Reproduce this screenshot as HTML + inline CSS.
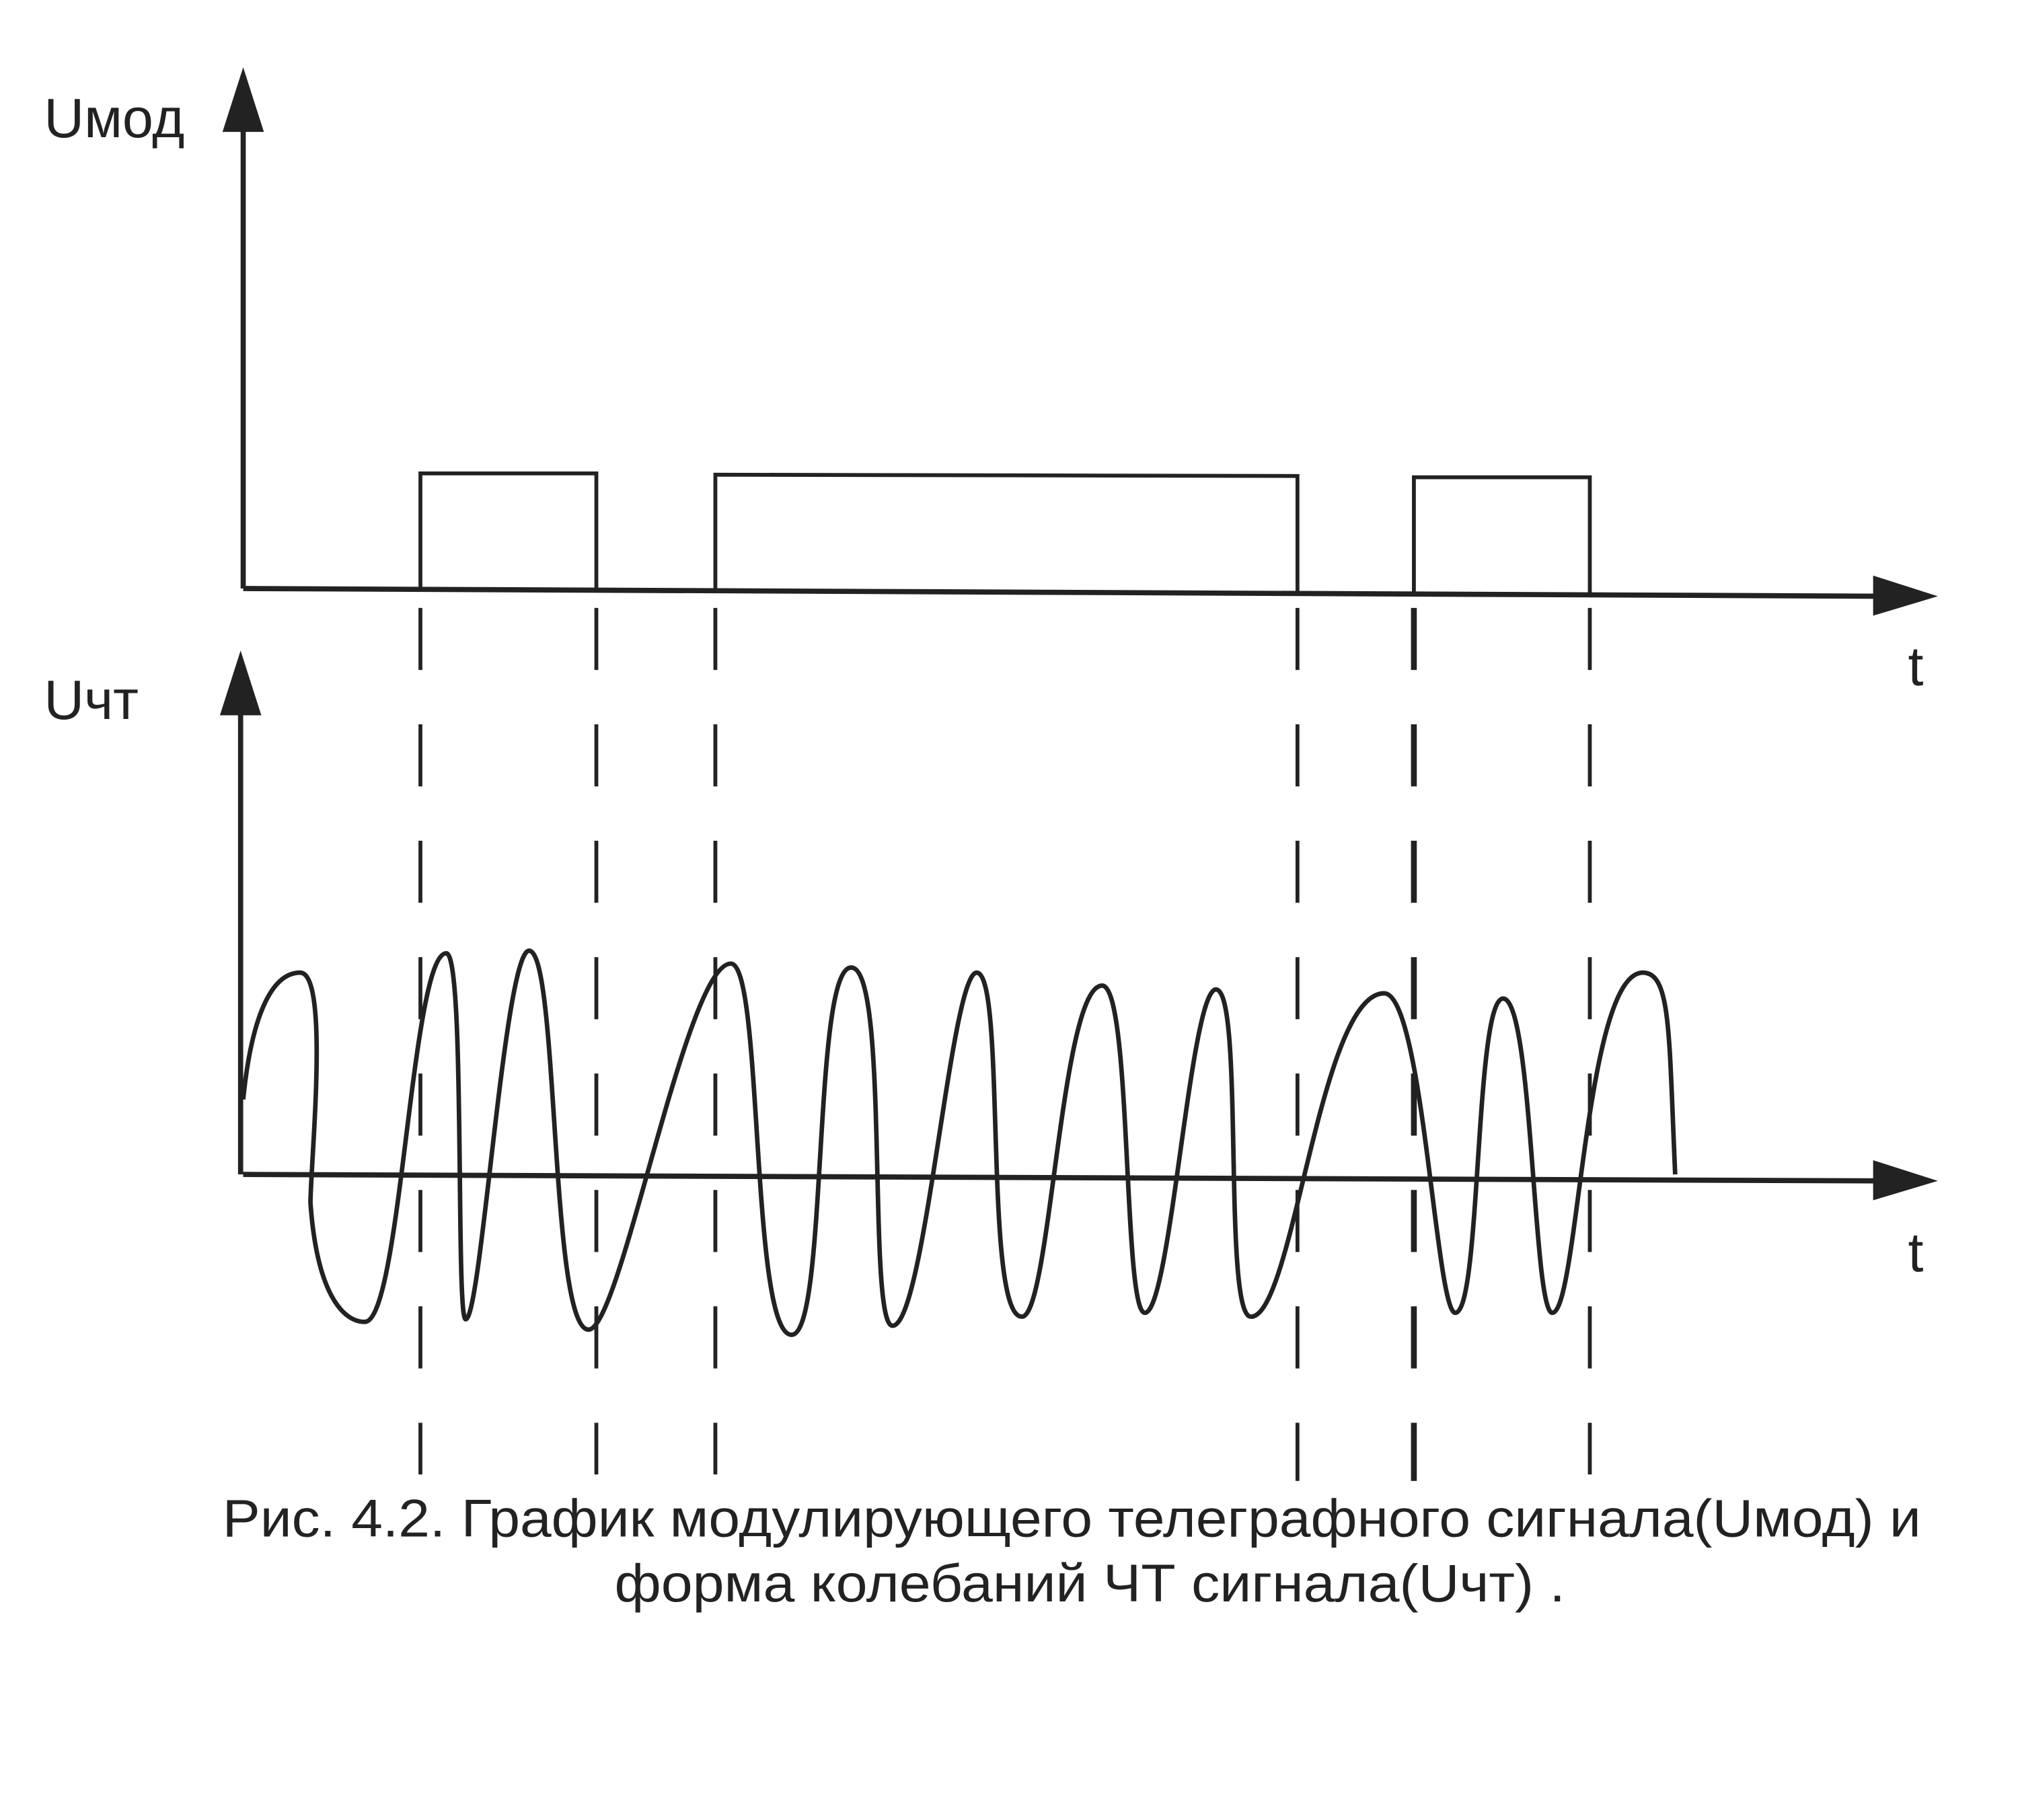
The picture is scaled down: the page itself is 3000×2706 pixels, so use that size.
<!DOCTYPE html>
<html><head><meta charset="utf-8"><style>
html,body{margin:0;padding:0;background:#fff;}
svg{display:block;}
text{font-family:"Liberation Sans",sans-serif;fill:#222;}
</style></head><body>
<svg width="3000" height="2706" viewBox="0 0 1560 1407.12" preserveAspectRatio="none" xmlns="http://www.w3.org/2000/svg">
<rect width="1560" height="1407.12" fill="#fff"/>
<g stroke="#222" fill="none" stroke-linecap="butt">
<line x1="188" y1="95" x2="188" y2="455" stroke-width="4"/>
<line x1="188" y1="455" x2="1460" y2="461" stroke-width="4"/>
<polyline points="325,456 325,366 461,366 461,457" stroke-width="3"/>
<polyline points="553,457 553,367 1003,368 1003,459" stroke-width="3"/>
<polyline points="1093,460 1093,369 1229,369 1229,460" stroke-width="3"/>
<line x1="186" y1="545" x2="186" y2="908" stroke-width="4"/>
<line x1="188" y1="908" x2="1460" y2="913" stroke-width="4"/>
<g stroke-width="3" stroke-dasharray="48 42">
<line x1="325" y1="470" x2="325" y2="1140"/>
<line x1="461" y1="470" x2="461" y2="1140"/>
<line x1="553" y1="470" x2="553" y2="1140"/>
<line x1="1003" y1="470" x2="1003" y2="1145"/>
<line x1="1093" y1="470" x2="1093" y2="1145" stroke-width="4.5"/>
<line x1="1229" y1="470" x2="1229" y2="1140"/>
</g>
<path stroke-width="3.5" d="M188,850 C195,780 212,752 232,752 C255,752 240,900 240,930 C245,1000 265,1022 282,1022 C310,1022 318,737 345,737 C360,737 352,1020 360,1020 C372,1020 390,735 409,735 C432,735 425,1028 455,1028 C480,1028 530,745 565,745 C590,745 580,1032 612,1032 C640,1032 628,748 658,748 C688,748 670,1025 690,1025 C715,1025 735,752 755,752 C778,752 760,1018 790,1018 C812,1018 820,762 852,762 C875,762 868,1015 885,1015 C905,1015 920,765 940,765 C962,765 945,1018 967,1018 C1000,1018 1020,768 1070,768 C1100,768 1110,1015 1125,1015 C1145,1015 1140,772 1162,772 C1185,772 1185,1015 1200,1015 C1220,1015 1225,752 1270,752 C1292,752 1290,800 1295,908"/>
</g>
<g fill="#222">
<polygon points="188,52 172,102 204,102"/>
<polygon points="186,503 170,553 202,553"/>
<polygon points="1498,461 1448,445 1448,476"/>
<polygon points="1498,913 1448,897 1448,928"/>
</g>
<text x="34" y="106" font-size="43">Uмод</text>
<text x="34" y="556" font-size="43">Uчт</text>
<text x="1475" y="530" font-size="43">t</text>
<text x="1475" y="983" font-size="43">t</text>
<text x="172" y="1188" font-size="41" textLength="1313" lengthAdjust="spacingAndGlyphs">Рис. 4.2. График модулирующего телеграфного сигнала(Uмод) и</text>
<text x="475" y="1238" font-size="41" textLength="735" lengthAdjust="spacingAndGlyphs">форма колебаний ЧТ сигнала(Uчт)  .</text>
</svg>
</body></html>
